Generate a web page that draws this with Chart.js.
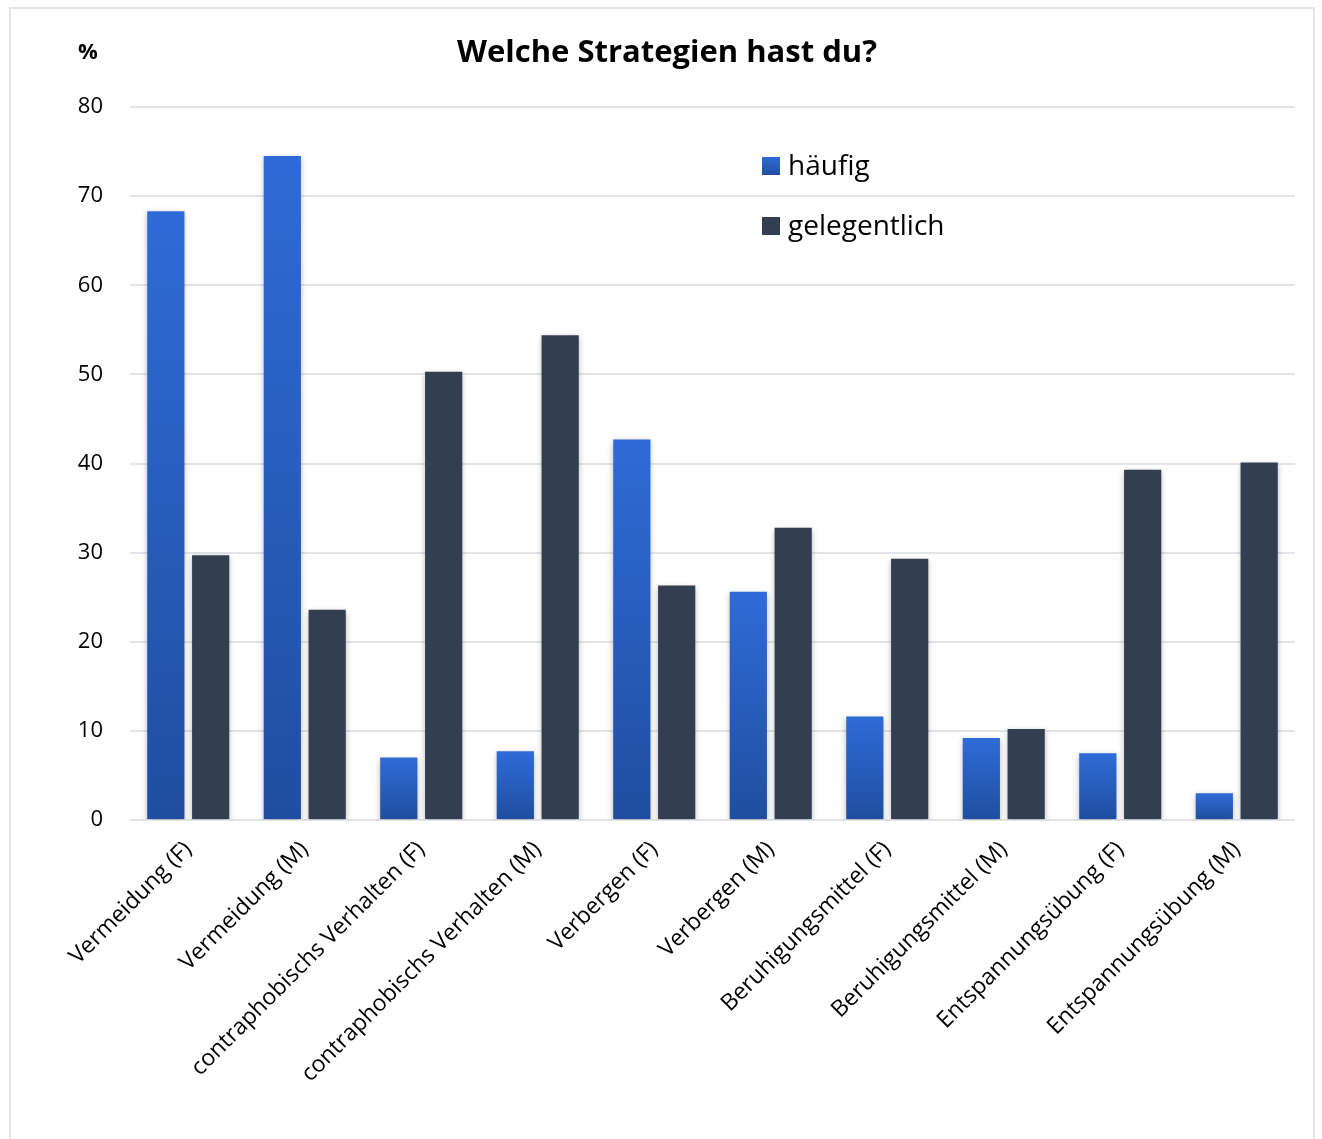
<!DOCTYPE html>
<html>
<head>
<meta charset="utf-8">
<script src="https://cdn.jsdelivr.net/npm/chart.js@4.4.1/dist/chart.umd.min.js"></script>
<style>
  html, body { margin: 0; padding: 0; background: #fff; }
  #wrap { position: relative; width: 1322px; height: 1139px; overflow: hidden; }
  #frame { position: absolute; left: 9px; top: 7px; width: 1302px; height: 1150px; border: 2px solid #e2e6eb; }
  #chart { position: absolute; left: 0; top: 0; }
</style>
</head>
<body>
<div id="wrap">
  <div id="frame"></div>
  <canvas id="chart" width="1322" height="1139"></canvas>
</div>
<script>
const categories = [
  'Vermeidung (F)', 'Vermeidung (M)',
  'contraphobischs Verhalten (F)', 'contraphobischs Verhalten (M)',
  'Verbergen (F)', 'Verbergen (M)',
  'Beruhigungsmittel (F)', 'Beruhigungsmittel (M)',
  'Entspannungsübung (F)', 'Entspannungsübung (M)'
];
const haeufig = [68.3, 74.5, 7.0, 7.7, 42.7, 25.6, 11.6, 9.2, 7.5, 3.0];
const gelegentlich = [29.7, 23.6, 50.3, 54.4, 26.3, 32.8, 29.3, 10.2, 39.3, 40.1];
const yTicks = [0, 10, 20, 30, 40, 50, 60, 70, 80];

const FONT = '"Open Sans", "Noto Sans", sans-serif';

function blueGradient(ctx) {
  const chart = ctx.chart;
  if (!chart.chartArea || !ctx.parsed) return '#2a5fc0';
  const ys = chart.scales.y;
  const top = ys.getPixelForValue(ctx.parsed.y);
  const base = ys.getPixelForValue(0);
  const g = chart.ctx.createLinearGradient(0, top, 0, base);
  g.addColorStop(0, '#2f6bd7');
  g.addColorStop(1, '#1f4e9f');
  return g;
}

const decorPlugin = {
  id: 'decor',
  beforeDatasetsDraw(chart) {
    const c = chart.ctx;
    c.save();
    c.shadowColor = 'rgba(0,0,0,0.28)';
    c.shadowBlur = 6;
    c.shadowOffsetY = 2;
  },
  afterDatasetsDraw(chart) {
    chart.ctx.restore();
  },
  afterDraw(chart) {
    const c = chart.ctx;
    c.save();
    c.fillStyle = '#000';
    c.textBaseline = 'middle';
    c.textAlign = 'center';
    c.font = 'bold 31px ' + FONT;
    c.fillText('Welche Strategien hast du?', 667, 53);
    c.font = 'bold 22px ' + FONT;
    c.fillText('%', 88, 53);

    // legend
    const swatches = [['#2f6bd7', '#1f4e9f'], ['#333f50', '#333f50']];
    c.textAlign = 'left';
    c.font = '28px ' + FONT;
    chart.data.datasets.forEach((ds, i) => {
      const y = 157 + i * 60;
      const g = c.createLinearGradient(0, y, 0, y + 18);
      g.addColorStop(0, swatches[i][0]);
      g.addColorStop(1, swatches[i][1]);
      c.fillStyle = g;
      c.fillRect(762, y, 18, 18);
      c.fillStyle = '#000';
      c.fillText(ds.label, 788, y + 10);
    });
    c.restore();
  }
};

new Chart(document.getElementById('chart'), {
  type: 'bar',
  data: {
    labels: categories,
    datasets: [
      { label: 'häufig', data: haeufig, backgroundColor: blueGradient },
      { label: 'gelegentlich', data: gelegentlich, backgroundColor: '#333f50' }
    ]
  },
  options: {
    responsive: false,
    animation: false,
    layout: { padding: { top: 107, right: 27, left: 0, bottom: 0 } },
    datasets: { bar: { categoryPercentage: 0.77, barPercentage: 0.83 } },
    plugins: { legend: { display: false }, tooltip: { enabled: false } },
    scales: {
      x: {
        grid: { display: false },
        border: { display: false },
        ticks: {
          minRotation: 45, maxRotation: 45, padding: 8,
          color: '#000', font: { family: FONT, size: 23 }
        },
        afterFit(scale) { scale.height = 319; }
      },
      y: {
        min: 0, max: 80,
        afterBuildTicks(scale) { scale.ticks = yTicks.map(v => ({ value: v })); },
        grid: { color: '#e1e5ea', lineWidth: 2, drawTicks: false },
        border: { display: false },
        ticks: {
          padding: 27, color: '#000', font: { family: FONT, size: 22 }
        },
        afterFit(scale) { scale.width = 130; }
      }
    }
  },
  plugins: [decorPlugin]
});
</script>
</body>
</html>
